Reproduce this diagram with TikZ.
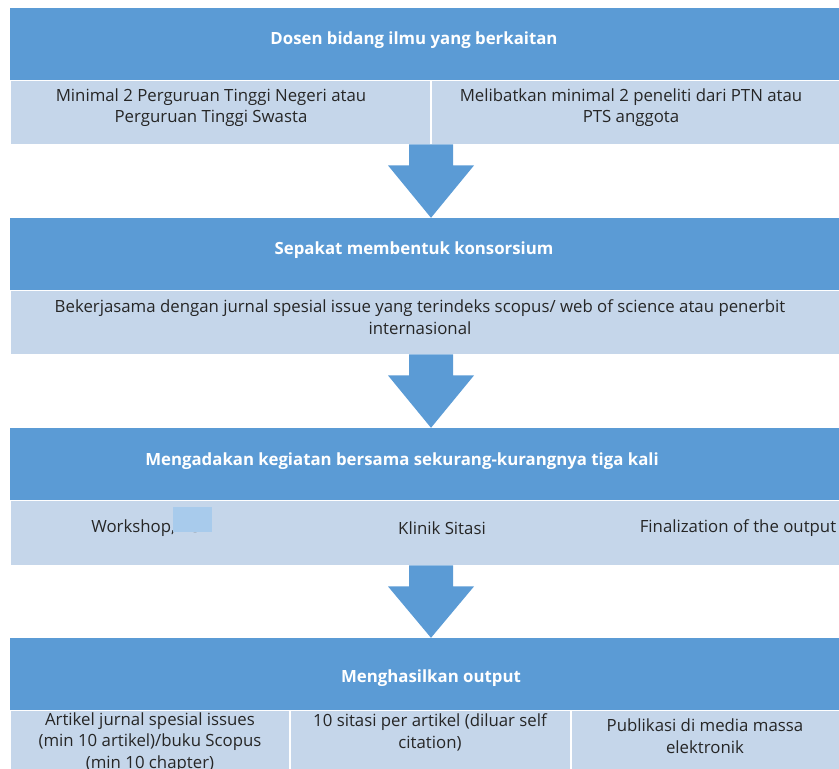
\documentclass[tikz,border=0pt]{standalone}
\usepackage{fontspec}
\setmainfont{Open Sans}
\usetikzlibrary{calc}

\definecolor{hdblue}{HTML}{5B9BD5}
\definecolor{rowblue}{HTML}{C5D6EA}
\definecolor{patchblue}{HTML}{A8CBEC}

\tikzset{
  head/.style={fill=hdblue, minimum width=842pt, minimum height=72pt, inner sep=0pt},
  row/.style={fill=rowblue, draw=white, line width=0.8pt, minimum width=842pt, inner sep=0pt},
  headtext/.style={text=white, inner sep=0pt, font=\bfseries\fontsize{16.8}{19}\selectfont},
  celltext/.style={align=center, inner sep=0pt, text=black!85, font=\fontsize{16.8}{21.5}\selectfont},
  divider/.style={draw=white, line width=1.2pt},
  flow/.style={fill=hdblue}
}

\begin{document}
\begin{tikzpicture}[x=1pt,y=-1pt]
\clip (0,0) rectangle (839,769);

% block 1
\node[head] (hd1) at (431,44) {};
\node[row, minimum height=64pt] (rw1) at (431,112) {};
\draw[divider] (431,80) -- (431,144);
\node[headtext] (t1) at (414,40) {Dosen bidang ilmu yang berkaitan};
\node[celltext] (c11) at (211,107.5) {Minimal 2 Perguruan Tinggi Negeri atau\\Perguruan Tinggi Swasta};
\node[celltext] (c12) at (631,107.5) {Melibatkan minimal 2 peneliti dari PTN atau\\PTS anggota};

% block 2
\node[head] (hd2) at (431,254) {};
\node[row, minimum height=64pt] (rw2) at (431,322) {};
\node[headtext] (t2) at (414,250) {Sepakat membentuk konsorsium};
\node[celltext] (c21) at (420,317) {Bekerjasama dengan jurnal spesial issue yang terindeks scopus/ web of science atau penerbit\\internasional};

% block 3
\node[head] (hd3) at (431,464) {};
\node[row, minimum height=65pt] (rw3) at (431,532.5) {};
\node[headtext] (t3) at (402,461) {Mengadakan kegiatan bersama sekurang-kurangnya tiga kali};
\node[celltext] (c31) at (152,528) {Workshop, FGD};
\fill[patchblue] (173,507) rectangle (212,532);
\node[celltext] (c32) at (442,528) {Klinik Sitasi};
\node[celltext] (c33) at (738,528) {Finalization of the output};

% block 4
\node[head] (hd4) at (431,674) {};
\node[row, minimum height=80pt] (rw4) at (431,750) {};
\draw[divider] (290,710) -- (290,790);
\draw[divider] (571,710) -- (571,790);
\node[headtext] (t4) at (431,678) {Menghasilkan output};
\node[celltext] (c41) at (150,742.5) {Artikel jurnal spesial issues\\(min 10 artikel)/buku Scopus\\(min 10 chapter)};
\node[celltext] (c42) at (430,732.5) {10 sitasi per artikel (diluar self\\citation)};
\node[celltext] (c43) at (705,736) {Publikasi di media massa\\elektronik};

% arrows between blocks
\foreach \a/\b in {rw1/hd2, rw2/hd3, rw3/hd4}
  \fill[flow] ($(\a.south)+(-22,0)$) -- ($(\a.south)+(22,0)$) -- ($(\a.south)+(22,21)$)
    -- ($(\a.south)+(43,21)$) -- (\b.north) -- ($(\a.south)+(-43,21)$)
    -- ($(\a.south)+(-22,21)$) -- cycle;
\end{tikzpicture}
\end{document}
